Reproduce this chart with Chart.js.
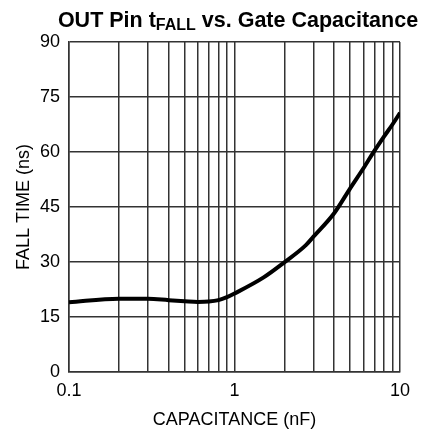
<!DOCTYPE html>
<html>
<head>
<meta charset="utf-8">
<script src="https://cdn.jsdelivr.net/npm/chart.js@4.4.0/dist/chart.umd.min.js"></script>
<style>
  body { margin: 0; background: #fff; }
  #wrap { width: 425px; height: 434px; }
</style>
</head>
<body>
<div id="wrap"><canvas id="grafico" width="425" height="434"></canvas></div>
<script>
// Capacitância (nF) e tempo de descida (ns)
const capacitancia = [0.1, 0.2, 0.3, 0.4, 0.5, 0.6, 0.7, 0.8, 0.9, 1, 1.5, 2, 2.7, 3, 4, 5, 6, 7, 8, 9, 10];
const tempoDescida = [19.0, 20.0, 20.0, 19.6, 19.3, 19.1, 19.2, 19.6, 20.4, 21.4, 25.8, 29.9, 34.6, 36.9, 43.3, 50.1, 55.5, 60.3, 64.2, 67.5, 70.7];

// Linhas de grade do eixo log e rótulos
const gradeX = [0.1, 0.2, 0.3, 0.4, 0.5, 0.6, 0.7, 0.8, 0.9, 1, 2, 3, 4, 5, 6, 7, 8, 9, 10];
const rotulosX = [0.1, 1, 10];
const ticksY = [0, 15, 30, 45, 60, 75, 90];

const fonte = "'Liberation Sans', Arial, sans-serif";

// Título com subscrito desenhado à mão
const tituloPlugin = {
    id: 'titulo',
    afterDraw(chart) {
        const ctx = chart.ctx;
        const parte1 = 'OUT Pin t';
        const sub = 'FALL';
        const parte2 = ' vs. Gate Capacitance';
        ctx.save();
        ctx.fillStyle = '#000';
        ctx.textBaseline = 'alphabetic';
        ctx.font = 'bold 21.5px ' + fonte;
        const w1 = ctx.measureText(parte1).width;
        const w3 = ctx.measureText(parte2).width;
        ctx.font = 'bold 16px ' + fonte;
        const w2 = ctx.measureText(sub).width;
        const total = w1 + w2 + w3;
        let x = 238 - total / 2;
        const y = 26.5;
        ctx.font = 'bold 21.5px ' + fonte;
        ctx.fillText(parte1, x, y);
        x += w1;
        ctx.font = 'bold 16px ' + fonte;
        ctx.fillText(sub, x, y + 3.5);
        x += w2;
        ctx.font = 'bold 21.5px ' + fonte;
        ctx.fillText(parte2, x, y);
        ctx.restore();
    }
};

const pontos = capacitancia.map((c, i) => ({ x: c, y: tempoDescida[i] }));

new Chart(document.getElementById('grafico').getContext('2d'), {
    type: 'line',
    data: {
        datasets: [{
            data: pontos,
            borderColor: '#000',
            borderWidth: 4,
            pointRadius: 0,
            fill: false,
            cubicInterpolationMode: 'monotone'
        }]
    },
    options: {
        responsive: false,
        animation: false,
        layout: { padding: { top: 42, right: 25, left: 0, bottom: 0 } },
        plugins: {
            legend: { display: false },
            tooltip: { enabled: false }
        },
        scales: {
            x: {
                type: 'logarithmic',
                min: 0.1,
                max: 10,
                afterBuildTicks: (axis) => {
                    axis.ticks = gradeX.map(v => ({ value: v }));
                },
                afterFit: (axis) => { axis.height = 62; },
                ticks: {
                    autoSkip: false,
                    maxRotation: 0,
                    color: '#000',
                    font: { family: fonte, size: 18 },
                    padding: 8,
                    callback: (v) => rotulosX.includes(v) ? String(v) : ''
                },
                grid: { color: '#333', lineWidth: 1.5, drawTicks: false },
                border: { color: '#333', width: 1.5 },
                title: {
                    display: true,
                    text: 'CAPACITANCE (nF)',
                    color: '#000',
                    font: { family: fonte, size: 18 },
                    padding: { top: 0, bottom: 3 }
                }
            },
            y: {
                min: 0,
                max: 90,
                afterBuildTicks: (axis) => {
                    axis.ticks = ticksY.map(v => ({ value: v }));
                },
                afterFit: (axis) => { axis.width = 69; },
                ticks: {
                    color: '#000',
                    font: { family: fonte, size: 18 },
                    padding: 9
                },
                grid: { color: '#333', lineWidth: 1.5, drawTicks: false },
                border: { color: '#333', width: 1.5 },
                title: {
                    display: true,
                    text: 'FALL TIME (ns)',
                    color: '#000',
                    font: { family: fonte, size: 18 },
                    padding: { top: 13, bottom: 0 }
                }
            }
        }
    },
    plugins: [tituloPlugin]
});
</script>
</body>
</html>
